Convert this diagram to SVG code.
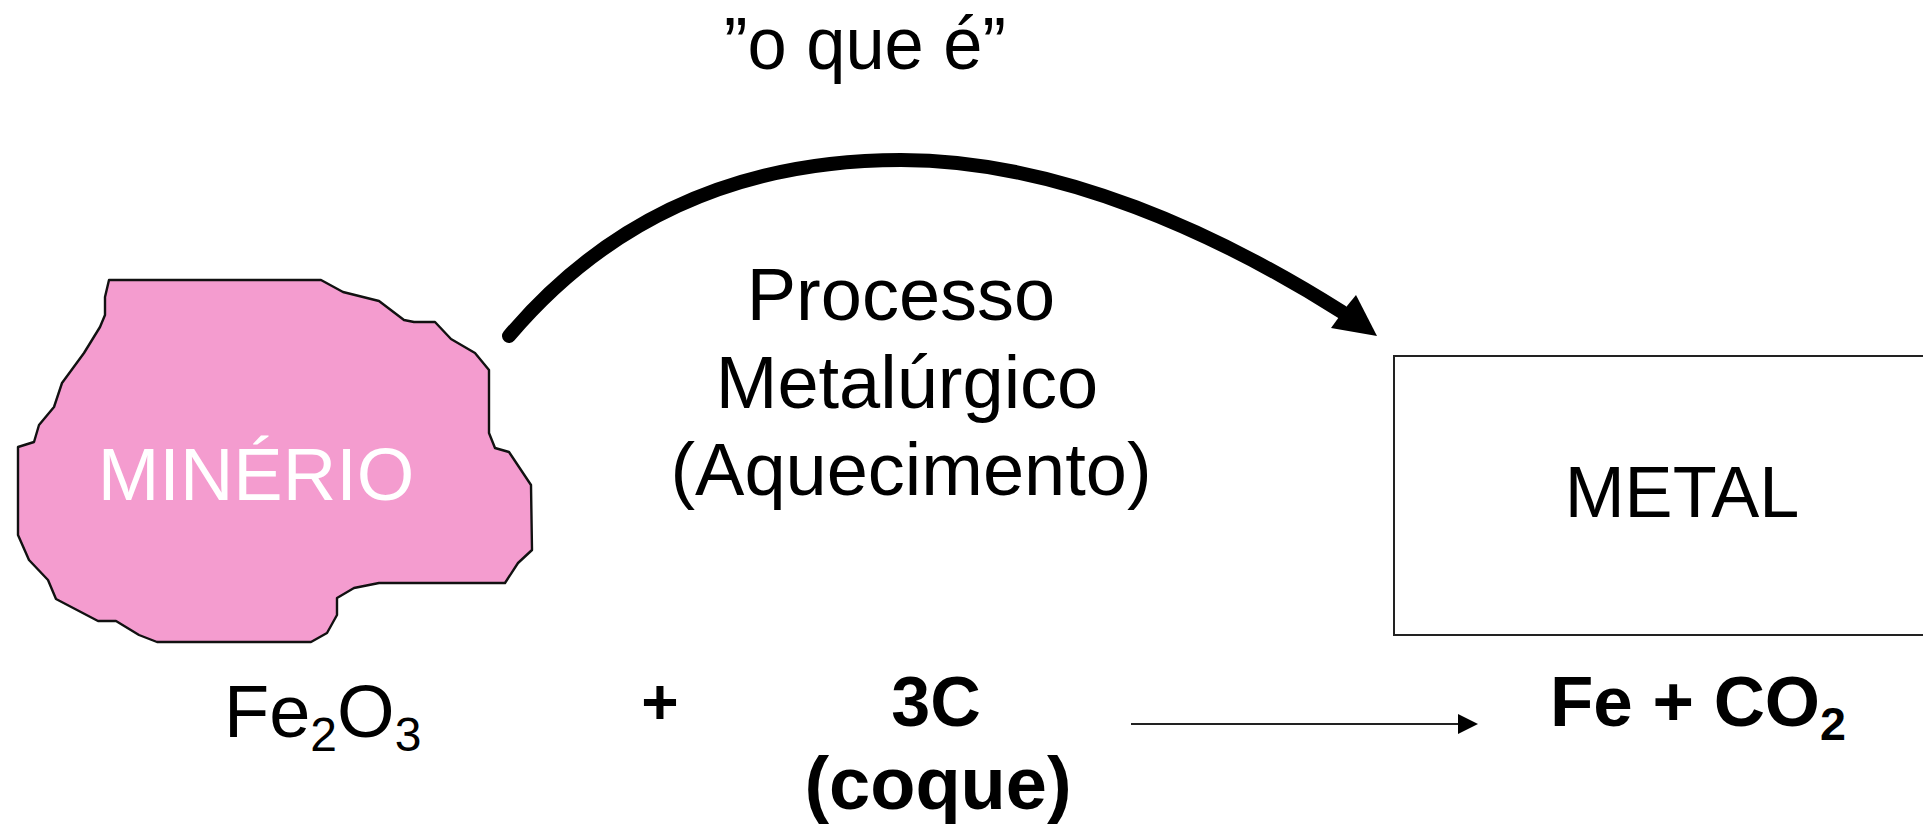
<svg xmlns="http://www.w3.org/2000/svg" width="1923" height="825" viewBox="0 0 1923 825">
<style>
text{font-family:"Liberation Sans",Arial,sans-serif;font-size:74px;fill:#000}
.c{text-anchor:middle}
.b{font-weight:bold;font-size:70px}
.s{font-size:48px}
</style>
<rect width="1923" height="825" fill="#fff"/>
<g id="title"><text class="c" x="865" y="69" textLength="282" lengthAdjust="spacingAndGlyphs">”o que é”</text></g>
<g id="minerio">
<path d="M109 280L321 280L343 292L379 301L404 320L414 322L435 322L451 339L475 353L489 370L489 433L495 448L509 452L531 485L532 550L518 563L505 583L379 583L354 588L337 598L337 615L327 633L311 642L157 642L139 635L116 621L98 621L56 599L48 580L29 560L18 535L18 447L34 442L39 425L54 407L62 383L84 353L100 327L105 315L105 297Z" fill="#f49ccf" stroke="#111" stroke-width="2.4" stroke-linejoin="round"/>
<text class="c" x="256" y="500" style="fill:#fff">MINÉRIO</text>
</g>
<g id="processo">
<text class="c" x="901" y="320">Processo</text>
<text class="c" x="907" y="408">Metalúrgico</text>
<text class="c" x="911" y="495">(Aquecimento)</text>
</g>
<g id="metal">
<rect x="1394" y="356" width="540" height="279" fill="#fff" stroke="#222" stroke-width="2"/>
<text class="c" x="1682" y="517" style="font-size:72px">METAL</text>
</g>
<g id="fe2o3"><text x="224" y="737">Fe<tspan class="s" dy="14">2</tspan><tspan dy="-14">O</tspan><tspan class="s" dy="14">3</tspan></text></g>
<g id="plus"><text class="c b" x="660" y="724" style="font-size:64px">+</text></g>
<g id="coque">
<text class="c b" x="936" y="726">3C</text>
<text class="c b" x="938" y="809" style="font-size:74px">(coque)</text>
</g>
<g id="produto"><text class="b" x="1550" y="726" textLength="296" lengthAdjust="spacingAndGlyphs">Fe + CO<tspan style="font-size:46px" dy="14">2</tspan></text></g>
<g id="connectors">
<path d="M509 336C620 205 760 160 901 160C1060 160 1220 235 1342 312" fill="none" stroke="#000" stroke-width="14" stroke-linecap="round"/>
<path d="M1377 336L1331 328L1339 317L1347 306L1356 295Z" fill="#000"/>
<path d="M1131 724H1462" stroke="#222" stroke-width="2" fill="none"/>
<path d="M1478 724L1458 714V734Z" fill="#000"/>
</g>
</svg>
